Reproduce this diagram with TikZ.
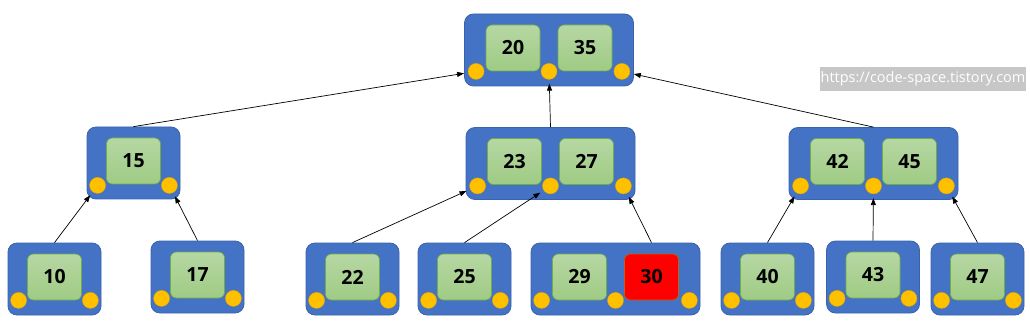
\documentclass[tikz,border=0pt]{standalone}
\usepackage{fontspec}
\setsansfont{Open Sans}
\usetikzlibrary{arrows.meta,calc}
\definecolor{blkblue}{HTML}{4472C4}
\definecolor{blkedge}{HTML}{3A62AE}
\definecolor{keytop}{HTML}{B6D7A3}
\definecolor{keybot}{HTML}{9FCB84}
\definecolor{keyedge}{HTML}{70AD47}
\definecolor{hotedge}{HTML}{C0620E}
\definecolor{ptrfill}{HTML}{FFC000}
\definecolor{ptredge}{HTML}{E0A800}
\tikzset{blk/.style={draw=blkedge, fill=blkblue, line width=0.8pt, rounded corners=9pt, minimum height=72pt},
  blkone/.style={blk, minimum width=93pt},
  blktwo/.style={blk, minimum width=169pt},
  key/.style={draw=keyedge, top color=keytop, bottom color=keybot, line width=0.6pt, rounded corners=6pt,
    minimum width=54pt, minimum height=46pt, inner sep=0pt, font=\sffamily\bfseries\fontsize{19.5}{19.5}\selectfont},
  hot/.style={key, top color=red, bottom color=red, draw=hotedge},
  ptr/.style={circle, fill=ptrfill, draw=ptredge, line width=0.4pt, minimum size=16pt, inner sep=0pt},
  link/.style={-{Triangle[length=7pt,width=5pt]}, line width=0.7pt, shorten >=4pt},
  wmark/.style={fill=black!22, text=white, inner sep=0pt, minimum width=206pt, minimum height=24pt,
    font=\sffamily\fontsize{14.5}{14.5}\selectfont}}

\begin{document}
\begin{tikzpicture}[x=1pt, y=-1pt]
  \useasboundingbox (0,0) rectangle (1030,323);
  % root
  \node[blktwo] (r) at (549,50) {};
  \node[key] (k20) at ($(r)+(-36,-2)$) {20};
  \node[key] (k35) at ($(r)+(36,-2)$) {35};
  \node[ptr] (ra) at ($(r.south west)+(12,-15)$) {};
  \node[ptr] (rb) at ($(r.south)+(0,-15)$) {};
  \node[ptr] (rc) at ($(r.south east)+(-12,-15)$) {};
  % middle level
  \node[blkone] (n15) at (133.5,163) {};
  \node[key] (k15) at ($(n15)+(0,-2)$) {15};
  \node[ptr] (c15a) at ($(n15.south west)+(11,-14)$) {};
  \node[ptr] (c15b) at ($(n15.south east)+(-11,-14)$) {};
  \node[blktwo] (n2327) at (550.5,163.5) {};
  \node[key] (k23) at ($(n2327)+(-36,-2)$) {23};
  \node[key] (k27) at ($(n2327)+(36,-2)$) {27};
  \node[ptr] (c23a) at ($(n2327.south west)+(12,-14)$) {};
  \node[ptr] (c23b) at ($(n2327.south)+(0,-14)$) {};
  \node[ptr] (c23c) at ($(n2327.south east)+(-12,-14)$) {};
  \node[blktwo] (n4245) at (873.5,163.5) {};
  \node[key] (k42) at ($(n4245)+(-36,-2)$) {42};
  \node[key] (k45) at ($(n4245)+(36,-2)$) {45};
  \node[ptr] (c42a) at ($(n4245.south west)+(12,-14)$) {};
  \node[ptr] (c42b) at ($(n4245.south)+(0,-14)$) {};
  \node[ptr] (c42c) at ($(n4245.south east)+(-12,-14)$) {};
  % leaves
  \node[blkone] (n10) at (54.5,279) {};
  \node[key] (k10) at ($(n10)+(0,-2)$) {10};
  \node[ptr] (c10a) at ($(n10.south west)+(11,-15)$) {};
  \node[ptr] (c10b) at ($(n10.south east)+(-11,-15)$) {};
  \node[blkone] (n17) at (197.5,277) {};
  \node[key] (k17) at ($(n17)+(0,-2)$) {17};
  \node[ptr] (c17a) at ($(n17.south west)+(11,-15)$) {};
  \node[ptr] (c17b) at ($(n17.south east)+(-11,-15)$) {};
  \node[blkone] (n22) at (352.5,279) {};
  \node[key] (k22) at ($(n22)+(0,-2)$) {22};
  \node[ptr] (c22a) at ($(n22.south west)+(11,-15)$) {};
  \node[ptr] (c22b) at ($(n22.south east)+(-11,-15)$) {};
  \node[blkone] (n25) at (464.5,279) {};
  \node[key] (k25) at ($(n25)+(0,-2)$) {25};
  \node[ptr] (c25a) at ($(n25.south west)+(11,-15)$) {};
  \node[ptr] (c25b) at ($(n25.south east)+(-11,-15)$) {};
  \node[blktwo] (n2930) at (615.5,279) {};
  \node[key] (k29) at ($(n2930)+(-36,-2)$) {29};
  \node[hot] (k30) at ($(n2930)+(36,-2)$) {30};
  \node[ptr] (c29a) at ($(n2930.south west)+(11,-15)$) {};
  \node[ptr] (c29b) at ($(n2930.south)+(0,-15)$) {};
  \node[ptr] (c29c) at ($(n2930.south east)+(-11,-15)$) {};
  \node[blkone] (n40) at (767.5,279) {};
  \node[key] (k40) at ($(n40)+(0,-2)$) {40};
  \node[ptr] (c40a) at ($(n40.south west)+(11,-15)$) {};
  \node[ptr] (c40b) at ($(n40.south east)+(-11,-15)$) {};
  \node[blkone] (n43) at (873,277) {};
  \node[key] (k43) at ($(n43)+(0,-2)$) {43};
  \node[ptr] (c43a) at ($(n43.south west)+(11,-15)$) {};
  \node[ptr] (c43b) at ($(n43.south east)+(-11,-15)$) {};
  \node[blkone] (n47) at (977.5,279) {};
  \node[key] (k47) at ($(n47)+(0,-2)$) {47};
  \node[ptr] (c47a) at ($(n47.south west)+(11,-15)$) {};
  \node[ptr] (c47b) at ($(n47.south east)+(-11,-15)$) {};
  % pointers
  \draw[link] (n10.north) -- (c15a);
  \draw[link] (n17.north) -- (c15b);
  \draw[link] (n22.north) -- (c23a);
  \draw[link] (n25.north) -- (c23b);
  \draw[link] (n2930.north -| k30) -- (c23c);
  \draw[link] (n40.north) -- (c42a);
  \draw[link] (n43.north) -- (c42b);
  \draw[link] (n47.north) -- (c42c);
  \draw[link] (n15.north) -- (ra);
  \draw[link] (n2327.north) -- (rb);
  \draw[link] (n4245.north) -- (rc);
  \node[wmark] (url) at (923,79) {https://code-space.tistory.com};
\end{tikzpicture}
\end{document}
